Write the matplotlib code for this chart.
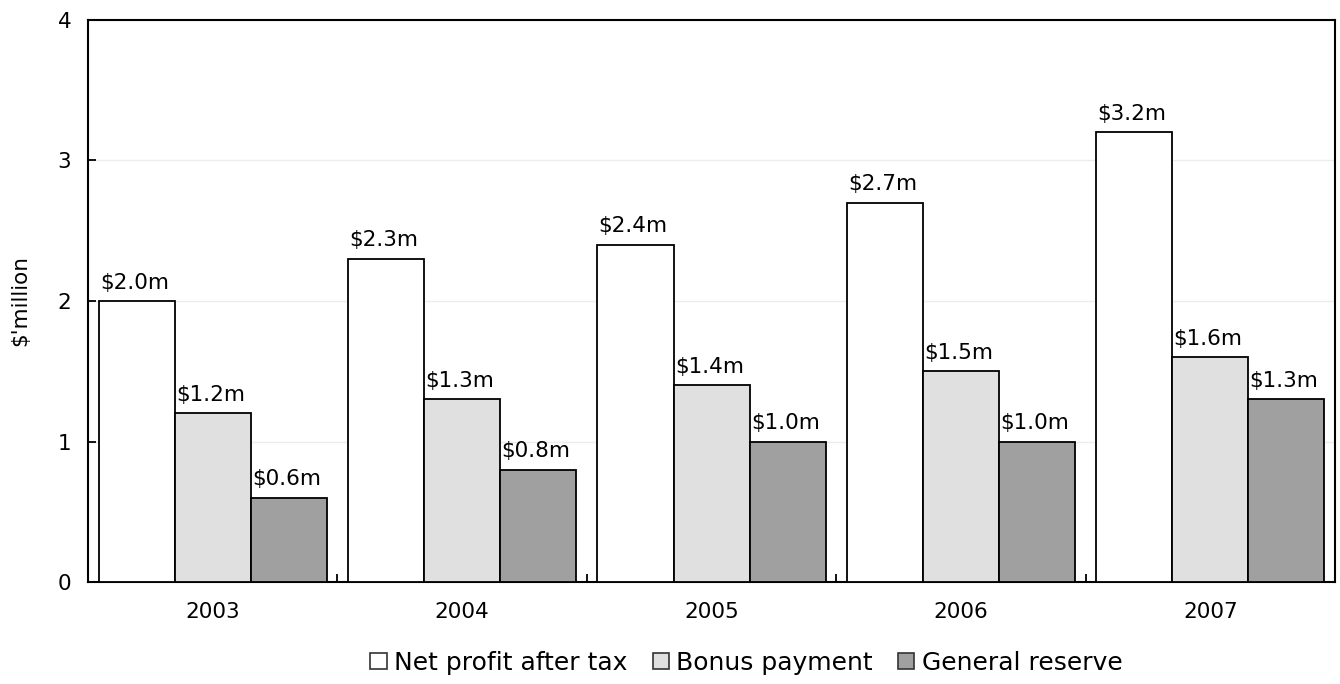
import numpy as np
import matplotlib.pyplot as plt
from matplotlib.patches import Patch

# data ($ million)
years = ['2003', '2004', '2005', '2006', '2007']
net_profit = [2.0, 2.3, 2.4, 2.7, 3.2]
bonus = [1.2, 1.3, 1.4, 1.5, 1.6]
reserve = [0.6, 0.8, 1.0, 1.0, 1.3]
series_names = ['Net profit after tax', 'Bonus payment', 'General reserve']
colors = ['#ffffff', '#e0e0e0', '#a0a0a0']

plt.rcParams['font.family'] = ['DejaVu Sans']
FS = 15.5

fig = plt.figure(figsize=(13.4, 6.84), dpi=100)
ax = fig.add_axes([0.0657, 0.149, 0.9306, 0.822])

x = np.arange(len(years))
width = 0.305
all_series = [net_profit, bonus, reserve]

for i, (vals, col) in enumerate(zip(all_series, colors)):
    pos = x + (i - 1) * width
    bars = ax.bar(pos, vals, width, color=col, edgecolor='black', linewidth=1.3, zorder=3)
    for b, v in zip(bars, vals):
        ax.text(b.get_x() + 0.005, v + 0.06, f'${v:.1f}m', ha='left', va='bottom',
                fontsize=FS, zorder=4)

ax.set_xlim(-0.5, len(years) - 0.5)
ax.set_ylim(0, 4)
ax.set_yticks([0, 1, 2, 3, 4])
ax.set_yticklabels(['0', '1', '2', '3', '4'])
ax.yaxis.grid(True, color='#ececec', linewidth=1, zorder=0)

# category labels centered, tick marks between categories
ax.set_xticks(x)
ax.set_xticklabels(years)
ax.set_xticks(np.arange(0.5, len(years) - 0.5, 1), minor=True)
ax.tick_params(axis='x', which='major', length=0, pad=14, labelsize=FS)
ax.tick_params(axis='x', which='minor', direction='in', length=6, width=1.3)
ax.tick_params(axis='y', direction='in', length=6, width=1.3, pad=12, labelsize=FS)

for s in ax.spines.values():
    s.set_linewidth(1.5)
    s.set_color('black')

ax.set_ylabel("$'million", fontsize=FS, labelpad=20)

handles = [Patch(facecolor=c, edgecolor='#333333', linewidth=1.2) for c in colors]
fig.legend(handles, series_names, loc='center', bbox_to_anchor=(0.557, 0.031),
           ncol=3, frameon=False, fontsize=18, handlelength=0.65, handleheight=0.65,
           handletextpad=0.3, columnspacing=1.0)

fig.savefig('out.png', dpi=100)
